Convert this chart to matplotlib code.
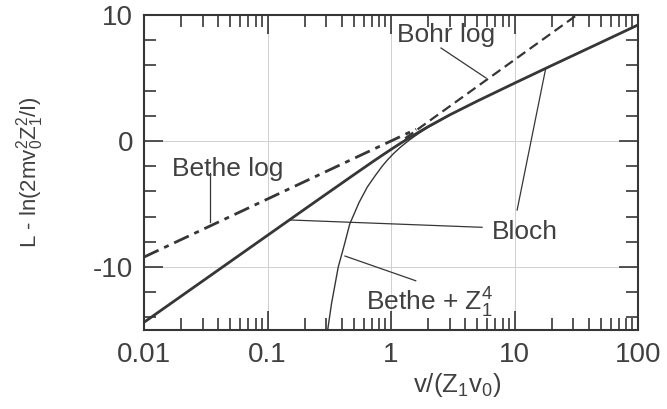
"""
Stopping number L relative to ln(2 m v0^2 Z1^2 / I) versus reduced speed
v/(Z1 v0): Bethe log, Bohr log, Bloch and Bethe + Z1^4 curves.
"""
import matplotlib
matplotlib.use("Agg")
import matplotlib.pyplot as plt
from matplotlib.ticker import FixedLocator, LogLocator, NullFormatter, MultipleLocator

plt.rcParams['font.family'] = ['Liberation Sans', 'DejaVu Sans']
plt.rcParams['mathtext.fontset'] = 'custom'
plt.rcParams['mathtext.rm'] = 'Liberation Sans'
plt.rcParams['mathtext.it'] = 'Liberation Sans'
plt.rcParams['axes.unicode_minus'] = False

# curve data
bloch_x = [0.01, 0.03, 0.1, 0.2, 0.3, 0.5, 0.7, 0.85, 1.0, 1.2, 1.5, 2.0,
           3.0, 5.0, 10.0, 20.0, 50.0, 100.0]
bloch_y = [-14.39, -11.10, -7.49, -5.41, -4.20, -2.68, -1.69, -1.13, -0.67,
           -0.17, 0.42, 1.14, 2.08, 3.17, 4.59, 5.99, 7.82, 9.21]

bethe_x = [0.01, 1.6]
bethe_y = [-9.21, 0.94]

bohr_x = [1.3, 32.0]
bohr_y = [0.21, 10.0]

z4_x = [0.305, 0.33, 0.374, 0.42, 0.463, 0.55, 0.643, 0.75, 0.85, 0.933,
        1.05, 1.2, 1.4, 1.7, 2.0, 3.0]
z4_y = [-15.2, -12.9, -10.0, -8.2, -6.6, -4.9, -3.65, -2.71, -1.99, -1.52,
        -0.99, -0.47, 0.06, 0.645, 1.086, 2.06]

x_ticks = [0.01, 0.1, 1, 10, 100]
x_ticklabels = ["0.01", "0.1", "1", "10", "100"]
y_ticks = [-10, 0, 10]
y_ticklabels = ["-10", "0", "10"]

# (text, x, y) label positions and leader lines
labels = [
    ("Bethe log", 0.0169, -2.78),
    ("Bohr log", 1.12, 7.86),
    ("Bloch", 6.58, -7.78),
    (r"Bethe + $\mathregular{Z_1^4}$", 0.624, -13.47),
]
leaders = [
    ([0.0342, 0.0342], [-2.57, -6.40]),
    ([2.54, 5.88], [7.38, 5.0]),
    ([0.154, 5.46], [-6.27, -6.85]),
    ([17.9, 10.5], [5.77, -5.48]),
    ([0.424, 1.585], [-9.13, -11.09]),
]

INK = '#363636'
TXT = '#404040'

fig = plt.figure(figsize=(6.67, 4.09), dpi=100)
ax = fig.add_axes([144/667, 1-330/409, 494/667, 315/409])

ax.set_xscale('log')
ax.set_xlim(0.01, 100)
ax.set_ylim(-15, 10)

# grid at the labelled values only
for gx in [0.1, 1, 10]:
    ax.axvline(gx, color='#cfcfcf', lw=0.7, zorder=0)
for gy in [-10, 0]:
    ax.axhline(gy, color='#cfcfcf', lw=0.7, zorder=0)

ax.plot(z4_x, z4_y, color=INK, lw=1.0, zorder=3)
ax.plot(bethe_x, bethe_y, color=INK, lw=2.0,
        linestyle=(0, (5.8, 2.2, 1.8, 2.2)), zorder=3)
ax.plot(bohr_x, bohr_y, color=INK, lw=1.6,
        linestyle=(0, (4.5, 2.4)), zorder=3)
ax.plot(bloch_x, bloch_y, color=INK, lw=2.0, zorder=4)

for lx, ly in leaders:
    ax.plot(lx, ly, color=INK, lw=0.9, zorder=2)
for txt, tx, ty in labels:
    ax.text(tx, ty, txt, fontsize=19, color=TXT, ha='left', va='baseline',
            zorder=5)

# ticks inward on all four sides
ax.xaxis.set_major_locator(FixedLocator(x_ticks))
ax.set_xticklabels(x_ticklabels)
ax.xaxis.set_minor_locator(LogLocator(base=10, subs=range(2, 10)))
ax.xaxis.set_minor_formatter(NullFormatter())
ax.yaxis.set_major_locator(FixedLocator(y_ticks))
ax.set_yticklabels(y_ticklabels)
ax.yaxis.set_minor_locator(MultipleLocator(2))

ax.tick_params(which='both', direction='in', top=True, right=True,
               color=INK, width=1.2, labelsize=20, labelcolor=TXT)
ax.tick_params(which='major', length=13.5)
ax.tick_params(which='minor', length=8.5)
ax.tick_params(axis='x', which='major', pad=9)
ax.tick_params(axis='y', which='major', pad=8)

for s in ax.spines.values():
    s.set_color(INK)
    s.set_linewidth(1.5)

fig.text(457/667, 1-392/409, r"v/(Z$\mathregular{_1}$v$\mathregular{_0}$)",
         fontsize=18.5, color=TXT, ha='center', va='baseline')
fig.text(30/667, 1-172/409,
         r"L - ln(2mv$\mathregular{_0^2}$Z$\mathregular{_1^2}$/I)",
         fontsize=16, color=TXT, ha='center', va='center', rotation=90)

fig.savefig("out.png", dpi=100, facecolor='white')
